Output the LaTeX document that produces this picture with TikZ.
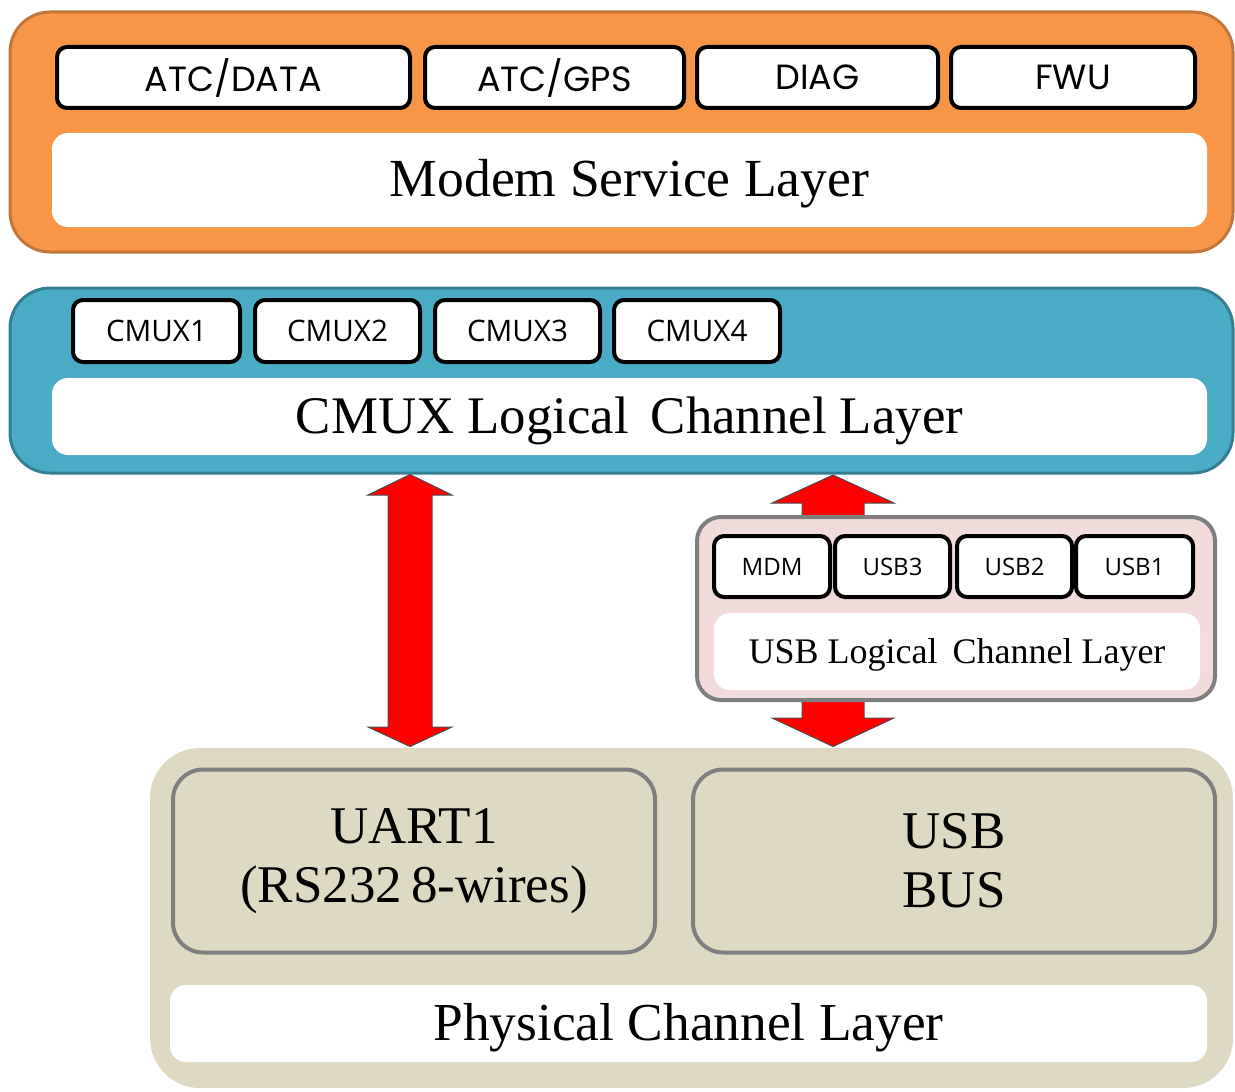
\documentclass[tikz,border=0pt]{standalone}
\usepackage{fontspec}
\setmainfont{Liberation Serif}
\newfontfamily\tabfont{Poppins}
\newfontfamily\chanfont{Open Sans}
\usepackage{tikz}
\usetikzlibrary{calc}

\definecolor{modemfill}{HTML}{F79646}
\definecolor{modemline}{HTML}{C0763A}
\definecolor{cmuxfill}{HTML}{4BACC6}
\definecolor{cmuxline}{HTML}{357F94}
\definecolor{usbfill}{HTML}{F2DCDB}
\definecolor{physfill}{HTML}{DDD9C3}
\definecolor{boxgray}{HTML}{7F7F7F}

\tikzset{
  layerbox/.style={inner sep=0pt, line width=1.5pt},
  whitebar/.style={fill=white, rounded corners=8pt, inner sep=0pt},
  tab/.style={draw=black, fill=white, line width=2pt, rounded corners=5pt, inner sep=0pt},
  bigtab/.style={tab, minimum height=30.5pt, font=\tabfont\fontsize{17.5}{20}\selectfont},
  smalltab/.style={tab, minimum height=31pt, font=\chanfont\fontsize{14.8}{17}\selectfont},
  tinytab/.style={tab, minimum height=30.5pt, font=\chanfont\fontsize{12}{14}\selectfont},
  portbox/.style={draw=boxgray, fill=physfill, line width=2pt, rounded corners=15pt, inner sep=0pt,
    minimum height=91.5pt, align=center, font=\fontsize{26.5}{29.5}\selectfont},
  fatarrow/.style={fill=red, draw=black!70, line width=0.5pt, line join=miter}
}

\begin{document}
\begin{tikzpicture}[x=0.5pt,y=-0.5pt]
  \useasboundingbox (0,0) rectangle (1235,1091);

  % modem service layer
  \node (modem) at (621.5,132) [layerbox, draw=modemline, fill=modemfill, rounded corners=20pt,
    minimum width=611.5pt, minimum height=120pt] {};
  \node (modembar) at (629.5,180) [whitebar, minimum width=577.5pt, minimum height=47pt] {};
  \node (modemtext) at (629.5,184) [font=\fontsize{26.8}{30}\selectfont] {Modem Service Layer};
  \node (atcdata) at (233.5,77.5) [bigtab, minimum width=176.5pt] {ATC/DATA};
  \node (atcgps) at (554.5,77.5) [bigtab, minimum width=129.5pt] {ATC/GPS};
  \node (diag) at (817.5,77.5) [bigtab, minimum width=120.5pt] {DIAG};
  \node (fwu) at (1073,77.5) [bigtab, minimum width=122pt] {FWU};

  % cmux logical channel layer
  \node (cmux) at (621.5,380.5) [layerbox, draw=cmuxline, fill=cmuxfill, rounded corners=20pt,
    minimum width=611.5pt, minimum height=92.5pt] {};
  \node (cmuxbar) at (629.5,416.5) [whitebar, minimum width=577.5pt, minimum height=38.5pt] {};
  \node (cmuxtext) at (629.5,421) [font=\fontsize{26.4}{30}\selectfont] {CMUX Logical\, Channel Layer};
  \node (cmuxa) at (156.5,331) [smalltab, minimum width=83.5pt] {CMUX1};
  \node (cmuxb) at (337.5,331) [smalltab, minimum width=82.5pt] {CMUX2};
  \node (cmuxc) at (517.5,331) [smalltab, minimum width=82.5pt] {CMUX3};
  \node (cmuxd) at (697,331) [smalltab, minimum width=83pt] {CMUX4};

  % physical channel layer
  \node (phys) at (691.5,918) [layerbox, fill=physfill, rounded corners=25pt,
    minimum width=541.5pt, minimum height=170pt] {};
  \node (physbar) at (688.5,1023.5) [whitebar, minimum width=518.5pt, minimum height=38.5pt] {};
  \node (phystext) at (688.5,1028) [font=\fontsize{26.7}{30}\selectfont] {Physical Channel Layer};
  \node (uart) at (414,861) [portbox, minimum width=241pt] {UART1\\(RS232\,8-wires)};
  \node (usbbus) at (954,861) [portbox, minimum width=261pt] {USB\\BUS};

  % arrows
  \draw[fatarrow] (cmux.south -| 410,0) -- (452,495) -- (432,495) -- (432,727) -- (452,727)
    -- (phys.north -| 410,0) -- (368,727) -- (388,727) -- (388,495) -- (368,495) -- cycle;
  \draw[fatarrow] (833,475) -- (894,503) -- (864,503) -- (864,718) -- (894,718)
    -- (phys.north -| 833,0) -- (772,718) -- (802,718) -- (802,503) -- (772,503) -- cycle;

  % usb logical channel layer
  \node (usb) at (956,608.5) [draw=boxgray, fill=usbfill, line width=2pt, rounded corners=12pt,
    inner sep=0pt, minimum width=259pt, minimum height=91.5pt] {};
  \node (usbbar) at (957,651.5) [whitebar, minimum width=243pt, minimum height=38.5pt] {};
  \node (usbtext) at (957,655) [font=\fontsize{18}{20}\selectfont] {USB Logical\, Channel Layer};
  \node (mdm) at (772,566.5) [tinytab, minimum width=58pt] {MDM};
  \node (usbc) at (892.5,566.5) [tinytab, minimum width=57.5pt] {USB3};
  \node (usbb) at (1014.5,566.5) [tinytab, minimum width=57.5pt] {USB2};
  \node (usba) at (1134.5,566.5) [tinytab, minimum width=58.5pt] {USB1};
\end{tikzpicture}
\end{document}
